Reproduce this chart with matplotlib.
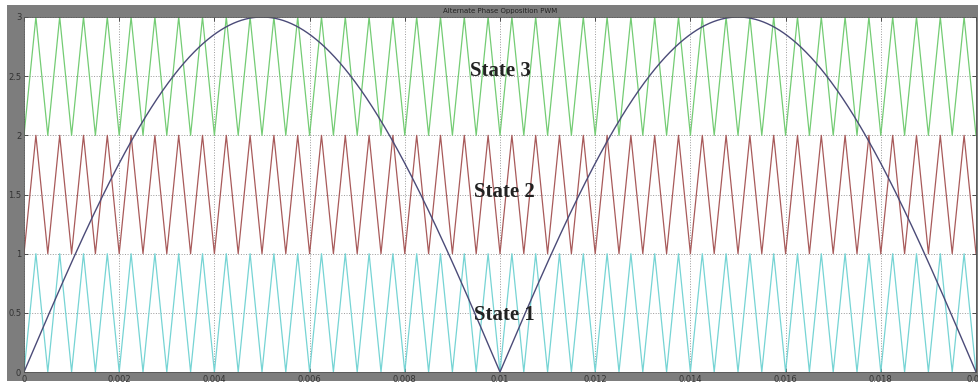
import numpy as np
import matplotlib
matplotlib.use("Agg")
import matplotlib.pyplot as plt
from matplotlib.patches import Rectangle

# reference (rectified sine) and carrier settings
t_end = 0.02
ref_amplitude = 3.0
ref_freq = 50.0
carrier_freq = 2000.0
carrier_bands = [0, 1, 2]
carrier_colors = ["#76d4d4", "#a85a5a", "#74cc74"]
ref_color = "#4b4b78"

state_labels = ["State 1", "State 2", "State 3"]
state_x = [0.0101, 0.0101, 0.0100]
state_y = [0.48, 1.52, 2.54]

x_ticks = [0, 0.002, 0.004, 0.006, 0.008, 0.01, 0.012, 0.014, 0.016, 0.018, 0.02]
x_ticklabels = ["0", "0.002", "0.004", "0.006", "0.008", "0.01", "0.012",
                "0.014", "0.016", "0.018", "0.02"]
y_ticks = [0, 0.5, 1, 1.5, 2, 2.5, 3]
y_ticklabels = ["0", "0.5", "1", "1.5", "2", "2.5", "3"]

W, H = 979, 387
fig = plt.figure(figsize=(W / 100, H / 100), dpi=100, facecolor="white")
# grey matlab-style window background, kept behind the axes
bg = Rectangle((7 / W, 1 - 381 / H), (W - 7) / W, (381 - 5) / H,
               transform=fig.transFigure, facecolor="#7d7d7d",
               edgecolor="none", zorder=-5)
fig.add_artist(bg)

ax = fig.add_axes([24 / W, 1 - 372 / H, (976 - 24) / W, (372 - 17) / H])
ax.set_zorder(1)
ax.set_facecolor("white")

t = np.linspace(0, t_end, 8001)
phase = (t * carrier_freq) % 1.0
tri = np.where(phase < 0.5, 2 * phase, 2 - 2 * phase)   # 0 -> 1 -> 0 each period
for base, col in zip(carrier_bands, carrier_colors):
    ax.plot(t, base + tri, color=col, lw=0.9)

ref = ref_amplitude * np.abs(np.sin(2 * np.pi * ref_freq * t))
ax.plot(t, ref, color=ref_color, lw=1.0)

for lab, xx, yy in zip(state_labels, state_x, state_y):
    ax.text(xx, yy, lab, family="Liberation Serif", fontweight="bold",
            fontsize=15, ha="center", va="center", color="#222222")

ax.set_xlim(0, t_end)
ax.set_ylim(0, 3)
ax.set_xticks(x_ticks)
ax.set_xticklabels(x_ticklabels)
ax.set_yticks(y_ticks)
ax.set_yticklabels(y_ticklabels)
ax.tick_params(direction="in", length=3, width=0.6, labelsize=6,
               colors="#333333", top=True, right=True, pad=2)
ax.grid(True, linestyle=":", color="#9a9a9a", lw=0.7)
for s in ax.spines.values():
    s.set_color("#555555")
    s.set_linewidth(0.6)

ax.set_title("Alternate Phase Opposition PWM", fontsize=5, color="#222222", pad=3)

fig.savefig("out.png", dpi=100, facecolor="white")
